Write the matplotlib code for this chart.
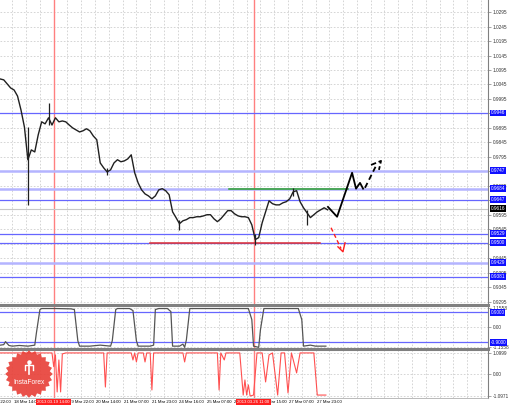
import numpy as np
import matplotlib
matplotlib.use("Agg")
import matplotlib.pyplot as plt
from matplotlib import transforms

plt.rcParams["font.family"] = ["Liberation Sans Narrow", "Liberation Sans", "DejaVu Sans"]

# eje x en barras H1 (barra 0 = 17 Mar 22:00)
horas = np.arange(9, 200, 2)
cierres = [1.0064, 1.0061, 1.0047, 1.0033, 1.0026, 1.0005, 0.9957, 0.9898, 0.9785, 0.9819,
           0.9812, 0.9871, 0.9916, 0.9909, 0.9930, 0.9905, 0.9930, 0.9916, 0.9919, 0.9916,
           0.9905, 0.9895, 0.9888, 0.9881, 0.9885, 0.9892, 0.9885, 0.9867, 0.9854, 0.9774,
           0.9757, 0.9743, 0.9750, 0.9774, 0.9785, 0.9778, 0.9781, 0.9788, 0.9802, 0.9740,
           0.9705, 0.9681, 0.9667, 0.9660, 0.9650, 0.9660, 0.9681, 0.9685, 0.9678, 0.9664,
           0.9605, 0.9585, 0.9564, 0.9574, 0.9578, 0.9585, 0.9585, 0.9588, 0.9588, 0.9591,
           0.9595, 0.9595, 0.9581, 0.9571, 0.9581, 0.9595, 0.9609, 0.9609, 0.9598, 0.9591,
           0.9588, 0.9588, 0.9585, 0.9560, 0.9509, 0.9516, 0.9567, 0.9605, 0.9643, 0.9633,
           0.9629, 0.9629, 0.9636, 0.9640, 0.9650, 0.9674, 0.9678, 0.9640, 0.9619, 0.9602,
           0.9585, 0.9595, 0.9605, 0.9612, 0.9619, 0.9612]
mechas_barra = [25, 37, 71, 113, 157, 179, 187]
mechas_min = [0.9629, 0.9905, 0.9733, 0.9543, 0.9491, 0.9660, 0.9560]
mechas_max = [0.9898, 0.9981, 0.9757, 0.9578, 0.9530, 0.9688, 0.9610]

niveles = [0.9947, 0.9747, 0.9685, 0.9647, 0.9529, 0.9498, 0.9429, 0.9381]
niveles_txt = ["0.9946", "0.9747", "0.9684", "0.9647", "0.9529", "0.9500", "0.9429", "0.9381"]
niveles_claros = [False, True, True, False, False, False, True, False]
precio_actual = 0.9616
marcas_tapadas = ["0.9945", "0.9745", "0.9645", "0.9495"]

# pronostico
prono_x = [199.2, 204.5, 213.2, 215.5, 217.8, 219.6]
prono_y = [0.9622, 0.9588, 0.9740, 0.9685, 0.9705, 0.9685]
prono2_x = [220.7, 227.1]
prono2_y = [0.9688, 0.9764]
flecha_x = [224.2, 230.0, 228.8]
flecha_y = [0.9767, 0.9781, 0.9750]
baja_x = [201.0, 206.8]
baja_y = [0.9550, 0.9478]
baja_flecha_x = [205.0, 207.9, 209.1]
baja_flecha_y = [0.9484, 0.9467, 0.9498]

# indicador 1 (gris)
barras2 = [9, 11, 12, 14, 16, 20, 25, 29, 30, 32, 33, 41, 50, 52, 54, 55, 61, 67, 73, 74,
           76, 77, 84, 86, 88, 89, 96, 98, 99, 101, 106, 108, 109, 113, 115, 116, 117, 119, 153, 155,
           156, 159, 160, 162, 182, 184, 185, 189, 192, 198]
valores2 = [-1.06, -1.03, -0.85, -1.08, -1.12, -1.08, -1.12, -1.06, -0.30, 1.06,
            1.12, 1.12, 1.10, 1.06, -0.80, -1.12, -1.12, -1.06, -1.12, -0.80,
            1.06, 1.12, 1.12, 1.00, -0.80, -1.12, -1.12, -1.06, 1.06, 1.12,
            1.12, 0.94, -1.12, -1.12, -1.00, -1.19, -0.76, 1.12, 1.12, 0.46,
            -1.12, -1.19, -0.15, 1.12, 1.12, 0.46, -1.12, -1.06, -1.12, -1.12]

# indicador 2 (rojo)
barras3 = [9, 39, 40, 41, 42, 43, 44, 45, 47, 69, 70, 71, 85, 86, 87, 88, 89, 92, 93, 94,
           96, 97, 98, 115, 116, 117, 135, 136, 137, 139, 140, 148, 150, 151, 152, 153, 154, 156, 158, 161,
           163, 165, 167, 170, 172, 174, 176, 178, 181, 183, 191, 193, 198]
valores3 = [1.10, 1.10, 0.40, 1.00, -0.89, 0.74, -0.89, 1.05, 1.10, 1.10,
            -0.64, 1.10, 1.10, 0.74, 1.10, 0.64, 1.10, 1.10, 0.64, 1.10,
            1.10, -0.79, 1.10, 1.10, 0.64, 1.10, 1.10, -0.79, 1.10, 0.74,
            1.10, 1.10, -1.05, -0.28, -1.05, -0.53, -1.10, -1.05, 1.10, 1.10,
            -0.38, 1.00, 1.10, -1.05, 1.10, 1.10, -0.94, 1.10, 0.08, 1.10,
            1.10, -1.05, -1.05]

etiquetas_barra = [0, 16, 32, 48, 64, 80, 96, 112, 128, 144, 160, 176, 192]
etiquetas = ["17 Mar 22:00", "18 Mar 14:00", "19 Mar 06:00", "19 Mar 22:00", "20 Mar 14:00",
             "21 Mar 07:00", "21 Mar 23:00", "24 Mar 16:00", "25 Mar 07:00", "25 Mar 23:00",
             "26 Mar 15:00", "27 Mar 07:00", "27 Mar 23:00"]
cursores = [40, 156]
cursores_txt = ["2013.03.19 14:00", "2013.03.26 11:00"]

W, H = 510, 407
fs = 3.4


def caja(x0, y0, x1, y1):
    return [x0 / W, 1 - y1 / H, (x1 - x0) / W, (y1 - y0) / H]


fig = plt.figure(figsize=(W / 100, H / 100), dpi=100)
ax1 = fig.add_axes(caja(0, 0, 488, 305))
ax2 = fig.add_axes(caja(0, 305, 488, 349))
ax3 = fig.add_axes(caja(0, 349, 488, 398))

gris = "#808080"
for ax in (ax1, ax2, ax3):
    ax.set_xticks(np.arange(0, 300, 8))
    ax.set_xlim(8.82, 292.1)
    ax.tick_params(axis="x", length=0, labelbottom=False)
    ax.yaxis.tick_right()
    ax.tick_params(axis="y", direction="out", length=2, width=0.5, color=gris,
                   labelsize=fs, labelcolor="#333333", pad=1.5)
    ax.grid(True, color="#cfcfcf", linestyle=(0, (2, 2)), linewidth=0.6)
    ax.set_axisbelow(True)
    ax.spines["left"].set_visible(False)
    ax.spines["right"].set_color(gris)
    ax.spines["bottom"].set_visible(False)
    ax.spines["top"].set_visible(False)
    for c in cursores:
        ax.axvline(c, color="#ff8080", linewidth=1, zorder=1.8)

for ax in (ax2, ax3):
    ax.spines["top"].set_visible(True)
    ax.spines["top"].set_color(gris)
    ax.spines["top"].set_linewidth(2.2)
ax3.spines["bottom"].set_visible(True)
ax3.spines["bottom"].set_color("#b0b0b0")
ax3.spines["bottom"].set_linewidth(0.6)

# panel principal
marcas = np.arange(0.9295, 1.0296, 0.005)
ax1.set_yticks(marcas)
ax1.set_yticklabels(["" if f"{v:.4f}" in marcas_tapadas else f"{v:.4f}" for v in marcas])
ax1.set_ylim(0.9283, 1.0337)

tr1 = transforms.blended_transform_factory(ax1.transAxes, ax1.transData)
for p, t, claro in zip(niveles, niveles_txt, niveles_claros):
    if claro:
        ax1.axhline(p, color="#b4b4ff", linewidth=1.8, zorder=2)
    else:
        ax1.axhline(p, color="#6666ff", linewidth=0.9, zorder=2)
    ax1.text(1.005, p, t, transform=tr1, fontsize=fs, color="white", ha="left", va="center",
             clip_on=False, zorder=6, bbox=dict(facecolor="#1010ff", edgecolor="none", pad=0.6))
ax1.axhline(precio_actual, color="#c8c8c8", linewidth=0.8, zorder=2)
ax1.text(1.005, precio_actual, f"{precio_actual:.4f}", transform=tr1, fontsize=fs, color="white",
         ha="left", va="center", clip_on=False, zorder=6,
         bbox=dict(facecolor="black", edgecolor="none", pad=0.6))

ax1.plot([141.8, 210.9], [0.9685, 0.9685], color="#2ca02c", linewidth=1.1, zorder=3)
ax1.plot([95.9, 194.6], [0.9498, 0.9498], color="#e03030", linewidth=1.1, zorder=3)

ax1.plot(horas, cierres, color="#202020", linewidth=1.0, zorder=4)
ax1.vlines(mechas_barra, mechas_min, mechas_max, color="#202020", linewidth=0.9, zorder=4)

ax1.plot(prono_x, prono_y, color="black", linewidth=1.3, zorder=5)
ax1.plot(prono2_x, prono2_y, color="black", linewidth=1.3, linestyle=(0, (3, 2)), zorder=5)
ax1.plot(flecha_x, flecha_y, color="black", linewidth=1.3, linestyle=(0, (3, 1.5)), zorder=5)
ax1.plot(baja_x, baja_y, color="#ff2020", linewidth=1.0, linestyle=(0, (3, 2)), zorder=5)
ax1.plot(baja_flecha_x, baja_flecha_y, color="#ff2020", linewidth=1.0, zorder=5)

# indicador gris
ax2.set_yticks([-1.1558, 0.0, 1.1558])
ax2.set_yticklabels(["-1.1558", "0.00", "1.1558"])
ax2.set_ylim(-1.29, 1.33)
ax2.plot(barras2, valores2, color="#555555", linewidth=0.9, zorder=4)
tr2 = transforms.blended_transform_factory(ax2.transAxes, ax2.transData)
for v in (0.9, -0.9):
    ax2.axhline(v, color="#6666ff", linewidth=0.9, zorder=2)
    ax2.text(1.005, v, f"{v:.4f}", transform=tr2, fontsize=fs, color="white", ha="left",
             va="center", clip_on=False, zorder=6,
             bbox=dict(facecolor="#1010ff", edgecolor="none", pad=0.6))

# indicador rojo
ax3.set_yticks([-1.0971, 0.0, 1.0999])
ax3.set_yticklabels(["-1.0971", "0.00", "1.0999"])
ax3.set_ylim(-1.20, 1.30)
ax3.plot(barras3, valores3, color="#ff5050", linewidth=0.8, zorder=4)

# etiquetas de tiempo
tr3 = transforms.blended_transform_factory(ax3.transData, ax3.transAxes)
for b, t in zip(etiquetas_barra, etiquetas):
    ax3.text(b + 0.8, -0.04, t, transform=tr3, fontsize=3.1, ha="left", va="top", clip_on=False)
for b, t in zip(cursores, cursores_txt):
    ax3.text(b, -0.04, t, transform=tr3, fontsize=3.1, ha="center", va="top", color="white",
             clip_on=False, zorder=7, bbox=dict(facecolor="#ff2020", edgecolor="none", pad=0.8))

# logo
axl = fig.add_axes(caja(4, 349, 54, 399))
axl.set_xlim(-1.05, 1.05)
axl.set_ylim(-1.05, 1.05)
axl.set_aspect("equal")
axl.axis("off")
ang = np.linspace(0, 2 * np.pi, 49)
rad = np.where(np.arange(49) % 2 == 0, 1.0, 0.88)
axl.fill(rad * np.cos(ang), rad * np.sin(ang), color="#e8423a", alpha=0.92, linewidth=0)
axl.text(0, -0.36, "InstaForex", color="white", fontsize=4.8, ha="center", va="center")
axl.plot([0, 0], [0.02, 0.42], color="white", linewidth=1.2)
axl.plot([-0.18, -0.18, 0.18, 0.18], [0.18, 0.36, 0.36, 0.18], color="white", linewidth=1.0)
axl.scatter([0], [0.52], s=5, color="white")

fig.savefig("out.png", dpi=100)
